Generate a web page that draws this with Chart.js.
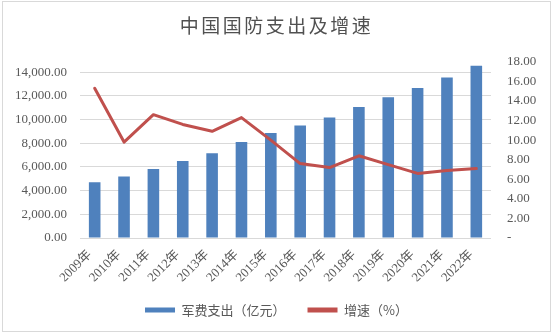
<!DOCTYPE html>
<html>
<head>
<meta charset="utf-8">
<script src="https://cdn.jsdelivr.net/npm/chart.js@4/dist/chart.umd.min.js"></script>
<style>
  html, body { margin: 0; padding: 0; background: #fff; }
  #wrap { width: 553px; height: 334px; }
</style>
</head>
<body>
<div id="wrap"><canvas id="chart" width="553" height="334"></canvas></div>
<script>
// Years on the category axis
const years = ['2009年', '2010年', '2011年', '2012年', '2013年', '2014年', '2015年',
               '2016年', '2017年', '2018年', '2019年', '2020年', '2021年', '2022年'];
// Defence spending, 亿元 (left axis)
const spending = [4700, 5190, 5830, 6500, 7150, 8100, 8860, 9500, 10170, 11050, 11880, 12660, 13540, 14530];
// Year-on-year growth, % (right axis)
const growth = [15.3, 9.8, 12.6, 11.6, 10.9, 12.3, 10.0, 7.6, 7.2, 8.4, 7.5, 6.6, 6.9, 7.1];
// Axis tick values
const leftTicks = [0, 2000, 4000, 6000, 8000, 10000, 12000, 14000];
const rightTicks = [0, 2, 4, 6, 8, 10, 12, 14, 16, 18];

const BLUE = '#4F81BD';
const RED = '#C0504D';
const TEXT = '#595959';
const GRID = '#D9D9D9';
const SERIF = "'Liberation Serif', 'Noto Sans CJK SC', serif";
const CJK = "'Noto Sans CJK SC', sans-serif";

const fmtThousands = v => v.toLocaleString('en-US', { minimumFractionDigits: 2, maximumFractionDigits: 2 });

// White background and thin outer frame
const framePlugin = {
  id: 'frame',
  beforeDraw(chart) {
    const c = chart.ctx;
    c.save();
    c.fillStyle = '#fff';
    c.fillRect(0, 0, chart.width, chart.height);
    c.strokeStyle = GRID;
    c.lineWidth = 1;
    c.strokeRect(2.5, 1.5, 548, 330);
    c.restore();
  }
};

const chart = new Chart(document.getElementById('chart'), {
  data: {
    labels: years,
    datasets: [
      {
        type: 'bar',
        label: '军费支出（亿元）',
        data: spending,
        yAxisID: 'y',
        backgroundColor: BLUE,
        borderWidth: 0,
        barPercentage: 0.395,
        categoryPercentage: 1,
        order: 1
      },
      {
        type: 'line',
        label: '增速（%）',
        data: growth,
        yAxisID: 'yR',
        borderColor: RED,
        backgroundColor: RED,
        borderWidth: 3,
        pointRadius: 0,
        tension: 0,
        borderJoinStyle: 'round',
        borderCapStyle: 'round',
        order: 0
      }
    ]
  },
  options: {
    responsive: false,
    animation: false,
    devicePixelRatio: 1,
    layout: { padding: { top: 0, left: 0, right: 0, bottom: 12.5 } },
    plugins: {
      tooltip: { enabled: false },
      title: {
        display: true,
        text: '中国国防支出及增速',
        color: '#505050',
        font: { family: CJK, size: 19, weight: 'normal' },
        padding: { top: 14, bottom: 25 }
      },
      legend: {
        position: 'bottom',
        maxHeight: 40,
        labels: {
          boxWidth: 30,
          boxHeight: 5,
          padding: 22,
          color: TEXT,
          font: { family: CJK, size: 13 },
          sort: (a, b) => a.datasetIndex - b.datasetIndex,
          generateLabels(chart) {
            const items = Chart.defaults.plugins.legend.labels.generateLabels(chart);
            items.forEach(it => {
              const ds = chart.data.datasets[it.datasetIndex];
              it.fillStyle = ds.type === 'line' ? ds.borderColor : ds.backgroundColor;
              it.lineWidth = 0;
              it.strokeStyle = it.fillStyle;
            });
            return items;
          }
        }
      }
    },
    scales: {
      x: {
        grid: { display: false, drawTicks: false },
        border: { display: false },
        ticks: {
          color: TEXT,
          font: { family: SERIF, size: 13 },
          minRotation: 45,
          maxRotation: 45,
          autoSkip: false,
          padding: 9,
          labelOffset: -5
        },
        afterFit(s) { s.height = 43.5; }
      },
      y: {
        position: 'left',
        min: 0,
        max: 14870,
        bounds: 'data',
        afterBuildTicks(s) { s.ticks = leftTicks.map(v => ({ value: v })); },
        grid: { color: GRID, lineWidth: 1, drawTicks: false },
        border: { display: false },
        ticks: {
          color: TEXT,
          font: { family: SERIF, size: 13 },
          padding: 13,
          callback: v => fmtThousands(v)
        },
        afterFit(s) { s.width = 80; }
      },
      yR: {
        position: 'right',
        min: 0,
        max: 18,
        bounds: 'data',
        afterBuildTicks(s) { s.ticks = rightTicks.map(v => ({ value: v })); },
        grid: { display: false, drawTicks: false },
        border: { display: false },
        ticks: {
          color: TEXT,
          font: { family: SERIF, size: 13 },
          padding: 16,
          callback: v => (v === 0 ? '-' : v.toFixed(2))
        },
        afterFit(s) { s.width = 62; }
      }
    }
  },
  plugins: [framePlugin]
});

// Give the title a little letter spacing
if (chart.titleBlock) {
  const tb = chart.titleBlock;
  const drawTitle = tb.draw.bind(tb);
  tb.draw = function () {
    const c = chart.ctx;
    c.save();
    c.letterSpacing = '2.5px';
    drawTitle();
    c.restore();
  };
  chart.draw();
}
</script>
</body>
</html>
